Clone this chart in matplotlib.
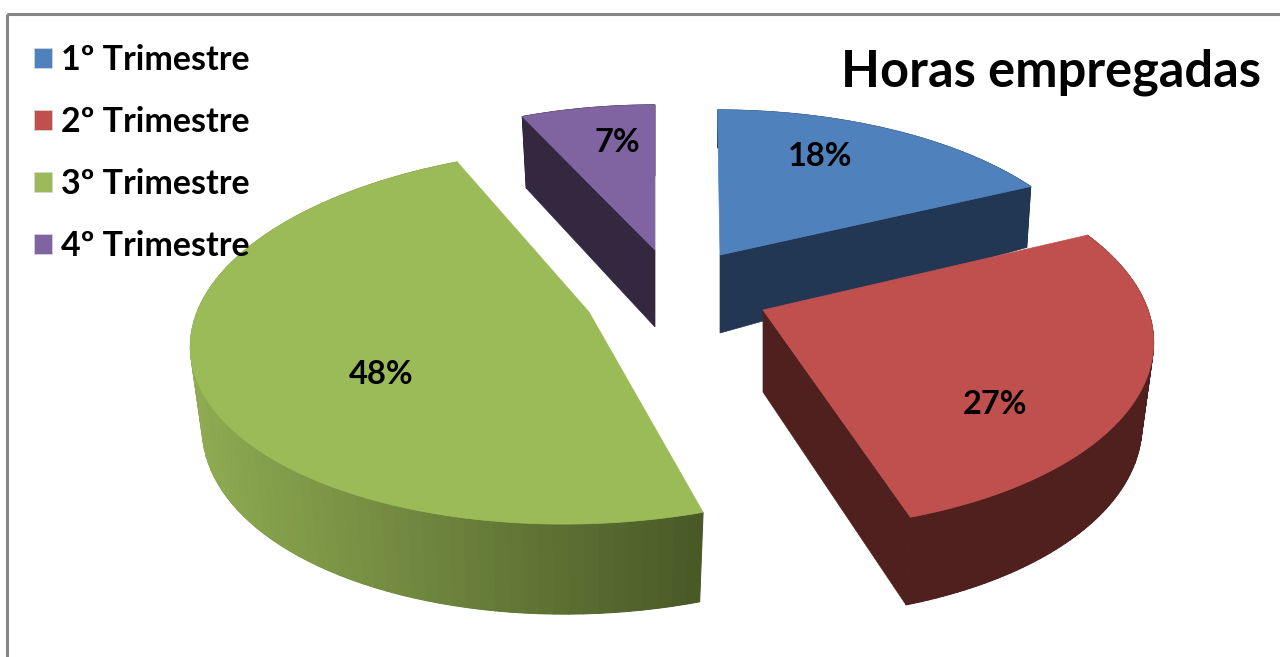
import numpy as np
import matplotlib
matplotlib.use('Agg')
import matplotlib.pyplot as plt
from matplotlib.collections import PolyCollection
from matplotlib.colors import to_rgb
from matplotlib.patches import Patch, Polygon, Rectangle

plt.rcParams['font.family'] = ['Lato', 'DejaVu Sans']

categories = ['1º Trimestre', '2º Trimestre', '3º Trimestre', '4º Trimestre']
shares = [18, 27, 48, 7]
title = 'Horas empregadas'

top_colors = ['#4F81BD', '#C0504D', '#9BBB59', '#8064A2']
# wall colour at the left and right end of each slice
wall_left = ['#223753', '#4F201E', '#8FAC52', '#33283F']
wall_right = ['#223753', '#4F201E', '#4A5A27', '#33283F']

# layout of the exploded slices, in picture pixels
apex = [(720, 255), (763, 310), (589, 312), (655, 250)]
rx = [375, 385, 392, 370]
ry = [175, 187, 185, 175]
persp = [0.206, 0.149, 0.128, 0.206]
shear = [-3, -8, 22, 0]
depth_mid = [78, 82, 80, 77]
depth_slope = [40, 6, 10, 6]
bottom_shrink = [0.987, 0.97, 0.97, 0.97]
# which radial cut faces the viewer: arc end, arc end, none, arc start
visible_cut = [-1, -1, None, 0]
label_pos = [(820, 157), (995, 405), (381, 374), (617, 143)]


def project(i, t):
    X, Y = np.sin(t), np.cos(t)
    w = 1 + persp[i] * Y
    x = apex[i][0] + (X * rx[i] + shear[i] * Y) / w
    y = apex[i][1] - Y * ry[i] / w
    return x, y


fig = plt.figure(figsize=(12.8, 6.57), dpi=100)
ax = fig.add_axes([0, 0, 1, 1])
ax.set_xlim(0, 1280)
ax.set_ylim(657, 0)
ax.axis('off')

ax.add_patch(Rectangle((7, 14), 1400, 800, fill=False, ec='#868686', lw=2.2, zorder=1))

edges = np.deg2rad(np.concatenate([[0], np.cumsum(shares) * 3.6]))
z = 2
for i in [3, 0, 2, 1]:
    t = np.linspace(edges[i], edges[i + 1], 90)
    x, y = project(i, t)
    ax0, ay0 = apex[i]
    xb = ax0 + (x - ax0) * bottom_shrink[i]
    yb = y + depth_mid[i] - depth_slope[i] * np.cos(t)
    cl, cr = np.array(to_rgb(wall_left[i])), np.array(to_rgb(wall_right[i]))

    # backing for the wall so that strips leave no seams
    ax.add_patch(Polygon(np.vstack([np.column_stack([x, y]),
                                    np.column_stack([xb, yb])[::-1]]),
                         fc=wall_right[i], ec='none', zorder=z))
    quads, cols = [], []
    for k in range(len(t) - 1):
        quads.append([(x[k], y[k]), (x[k + 1], y[k + 1]),
                      (xb[k + 1], yb[k + 1]), (xb[k], yb[k])])
        f = (x[k] - x.min()) / (x.max() - x.min())
        cols.append(cl + (cr - cl) * f)
    ax.add_collection(PolyCollection(quads, facecolors=cols, edgecolors=cols, lw=0.7, zorder=z))

    j = visible_cut[i]
    if j is not None:
        ax.add_patch(Polygon([(ax0, ay0), (x[j], y[j]), (xb[j], yb[j]), (ax0, ay0 + depth_mid[i])],
                             fc=wall_right[i], ec=wall_right[i], lw=0.5, zorder=z))
    # top of the slice
    ax.add_patch(Polygon(np.vstack([[(ax0, ay0)], np.column_stack([x, y])]),
                         fc=top_colors[i], ec=top_colors[i], lw=0.5, zorder=z + 1))
    z += 2

for pos, s in zip(label_pos, shares):
    ax.text(pos[0], pos[1], f'{s}%', fontsize=23.5, fontweight='bold', color='black',
            ha='center', va='center', zorder=20)

ax.text(1261, 72, title, fontsize=36.4, fontweight='bold', color='black',
        ha='right', va='center', zorder=20)

handles = [Patch(fc=c, ec='#D8D8D8', lw=0.5) for c in top_colors]
ax.legend(handles, categories, loc='upper left', bbox_to_anchor=(34 / 1280, 1 - 44 / 657),
          bbox_transform=ax.transAxes, frameon=False,
          prop={'family': 'Lato', 'weight': 'bold', 'size': 24.5},
          handlelength=0.54, handleheight=0.54, handletextpad=0.24,
          labelspacing=0.88, borderpad=0, borderaxespad=0).set_zorder(20)

fig.savefig('out.png', dpi=100, facecolor='white')
